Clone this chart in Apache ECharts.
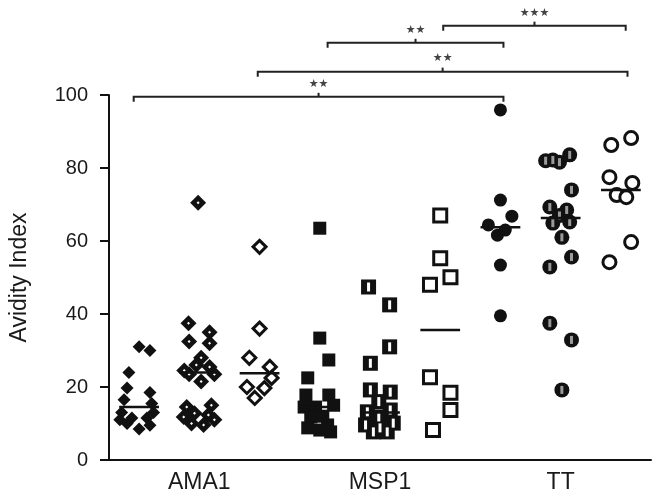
<!DOCTYPE html>
<html>
<head>
<meta charset="utf-8">
<script src="https://cdn.jsdelivr.net/npm/echarts@6/dist/echarts.min.js"></script>
<style>html,body{margin:0;padding:0;background:#fff}#c{width:662px;height:503px}</style>
</head>
<body>
<div id="c"></div>
<script>
// x-axis categories (9 groups: 3 per antigen)
const categories = ['', 'AMA1', '', '', 'MSP1', '', '', 'TT', ''];
// y axis
const yMin = 0, yMax = 100, yStep = 20;
const yName = 'Avidity Index';

// each point: [jitter offset within group, avidity index]
const ama1Filled = [[0.00,31],[0.18,30],[-0.17,24],[-0.20,19.7],[0.18,18.5],[-0.25,16.5],[0.21,15.5],[-0.29,13],[0.24,13],[-0.12,11.5],[0.13,11.5],[-0.20,10],[0.00,8.5],[0.18,9.5],[-0.32,11]];
const ama1Half = [[-0.02,70.5],[-0.18,37.5],[-0.17,32.5],[0.17,35],[0.17,32],[0.03,28],[-0.05,26],[-0.17,23.5],[0.17,25.5],[0.25,23.5],[0.03,21.5],[-0.25,24.5],[-0.21,14.5],[0.20,15],[-0.08,12.8],[0.15,12.3],[-0.13,10],[0.07,9.6],[0.25,11],[-0.26,11.8]];
const ama1Open = [[0,58.4],[0,36],[-0.17,28],[0.17,25.5],[0.20,22.5],[-0.21,20],[0.08,19.7],[-0.08,17]];
const msp1Filled = [[0,63.5],[0,33.4],[0.15,27.4],[-0.20,22.5],[-0.23,17.8],[0.15,17.8],[-0.26,14.5],[0.23,15],[-0.07,14.5],[-0.15,11.8],[0.13,9.6],[-0.20,8.8],[0,8.2],[0.18,7.7],[0.05,12]];
const msp1Half = [[-0.19,47.4],[0.16,42.5],[0.16,31],[-0.16,26.5],[-0.16,19.2],[0.17,18.6],[-0.02,16],[-0.21,13.2],[0.17,13.7],[-0.02,11.8],[-0.24,9.6],[0.22,10.1],[-0.11,7.7],[0.12,7.7],[0,8.8]];
const msp1Open = [[0,67],[0,55.3],[0.17,50.1],[-0.17,48],[-0.17,22.7],[0.17,18.4],[0.17,13.7],[-0.12,8.2]];
const ttFilled = [[0,95.9],[0,71.2],[0.19,66.8],[-0.20,64.4],[-0.05,61.6],[0.08,63],[0,53.4],[0,39.5]];
const ttHalf = [[-0.13,82.2],[-0.25,82],[0.15,83.6],[-0.02,81.6],[0.18,74],[-0.18,69.3],[0.10,68.5],[-0.13,64.9],[0.15,65.2],[-0.02,67],[0.02,61],[0.18,55.6],[-0.18,52.9],[-0.18,37.5],[0.18,32.9],[0.02,19.2]];
const ttOpen = [[-0.16,86.3],[0.17,88.2],[-0.19,77.5],[0.19,75.9],[-0.07,72.6],[0.09,72],[0.17,59.7],[-0.19,54.2]];

// group centre lines
const groupLines = [14.5, 24, 23.8, 14.5, 13, 35.6, 63.8, 66.3, 74];

// significance brackets: [from x, to x, y level, label]
const brackets = [
  [0.91, 7.05, 99.5, '★★'],
  [2.97, 9.11, 106.4, '★★'],
  [4.13, 7.05, 114.3, '★★'],
  [6.05, 9.08, 119.0, '★★★']
];

const groups = [ama1Filled, ama1Half, ama1Open, msp1Filled, msp1Half, msp1Open, ttFilled, ttHalf, ttOpen];
const ink = '#111';
const font = "'Liberation Sans', Arial, Helvetica, sans-serif";

function pts(i) { return groups[i].map(p => [i + 1 + p[0], p[1]]); }

function scatter(i, symbol, size, style, z) {
  return {
    type: 'scatter', xAxisIndex: 1, yAxisIndex: 0, data: pts(i),
    symbol: symbol, symbolSize: size, itemStyle: style, clip: false,
    silent: true, z: z || 2, animation: false
  };
}

const filled = { color: ink, opacity: 1 };
const open = { color: '#fff', borderColor: ink, borderWidth: 3, opacity: 1 };
const hole = { color: '#fff', opacity: 1 };

const series = [
  scatter(0, 'diamond', 13, filled),
  scatter(1, 'diamond', 16, filled),
  scatter(1, 'diamond', 3, hole, 3),
  scatter(2, 'diamond', 13, open),
  scatter(3, 'rect', 13, filled),
  scatter(4, 'rect', 15, filled),
  scatter(4, 'rect', [3, 9], hole, 3),
  scatter(5, 'rect', 13, open),
  scatter(6, 'circle', 13, filled),
  scatter(7, 'circle', 15, filled),
  scatter(7, 'rect', [3, 8], { color: '#9a9a9a', opacity: 1 }, 3),
  scatter(8, 'circle', 13, open),
  {
    type: 'custom', xAxisIndex: 1, yAxisIndex: 0, clip: false, silent: true, z: 5, animation: false,
    data: groupLines.map((v, i) => [i + 1, v]),
    renderItem: function (params, api) {
      const x = api.value(0), y = api.value(1);
      const a = api.coord([x - 0.33, y]), b = api.coord([x + 0.33, y]);
      return { type: 'line', shape: { x1: a[0], y1: a[1], x2: b[0], y2: b[1] },
        style: { stroke: ink, lineWidth: 2.5 } };
    }
  },
  {
    type: 'custom', xAxisIndex: 1, yAxisIndex: 0, clip: false, silent: true, z: 5, animation: false,
    data: brackets,
    renderItem: function (params, api) {
      const br = brackets[params.dataIndex];
      const a = api.coord([br[0], br[2]]), b = api.coord([br[1], br[2]]);
      const mx = (a[0] + b[0]) / 2;
      return { type: 'group', children: [
        { type: 'polyline', shape: { points: [[a[0], a[1] + 5], [a[0], a[1]], [b[0], b[1]], [b[0], b[1] + 5]] },
          style: { stroke: '#222', lineWidth: 2, fill: null } },
        { type: 'line', shape: { x1: mx, y1: a[1], x2: mx, y2: a[1] - 4 }, style: { stroke: '#222', lineWidth: 2 } },
        { type: 'text', x: mx, y: a[1] - 13,
          style: { text: br[3], fill: '#444', font: "11px 'DejaVu Sans', sans-serif", align: 'center', verticalAlign: 'middle' } }
      ] };
    }
  }
];

const chart = echarts.init(document.getElementById('c'), null, { renderer: 'canvas' });
chart.setOption({
  backgroundColor: '#fff',
  animation: false,
  grid: { left: 107, right: 11, top: 95, bottom: 43, containLabel: false },
  xAxis: [
    {
      type: 'category', data: categories, boundaryGap: true,
      axisLine: { lineStyle: { color: ink, width: 2 } },
      axisTick: { alignWithLabel: true, interval: 0, length: 9, lineStyle: { color: ink, width: 2 } },
      axisLabel: { interval: 0, color: '#1a1a1a', fontSize: 23, fontFamily: font, margin: 11 },
      splitLine: { show: false }
    },
    { type: 'value', min: 0.5, max: 9.5, show: false, splitLine: { show: false } }
  ],
  yAxis: {
    type: 'value', min: yMin, max: yMax, interval: yStep,
    name: yName, nameLocation: 'middle', nameGap: 78, nameRotate: 90,
    nameTextStyle: { color: '#1a1a1a', fontSize: 23, fontFamily: font },
    axisLine: { show: true, lineStyle: { color: ink, width: 2 } },
    axisTick: { show: true, length: 9, lineStyle: { color: ink, width: 2 } },
    axisLabel: { color: '#1a1a1a', fontSize: 20, fontFamily: font, margin: 21 },
    splitLine: { show: false }
  },
  series: series
});
</script>
</body>
</html>
